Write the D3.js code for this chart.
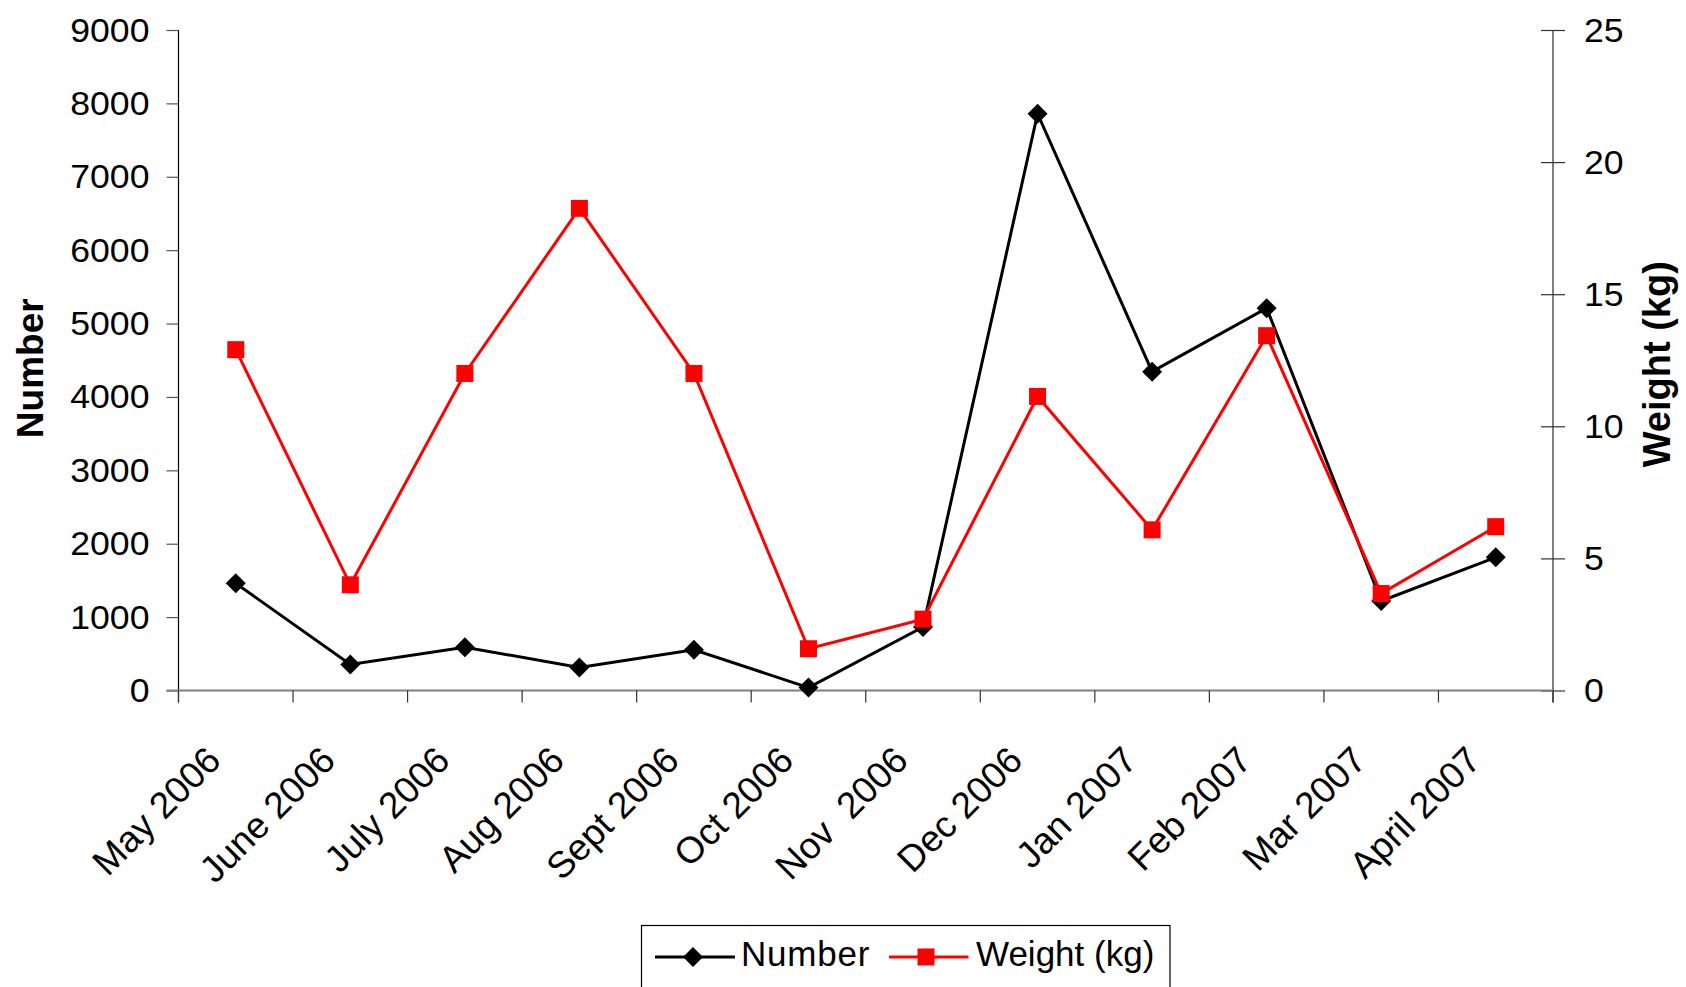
<!DOCTYPE html>
<html>
<head>
<meta charset="utf-8">
<script src="https://cdn.jsdelivr.net/npm/d3@7"></script>
<style>
  html, body { margin: 0; padding: 0; background: #ffffff; }
  svg { display: block; }
  text { font-family: "Liberation Sans", Arial, sans-serif; fill: #000; }
</style>
</head>
<body>
<svg id="chart" width="1686" height="987"></svg>
<script>
const categories = ["May 2006", "June 2006", "July 2006", "Aug 2006", "Sept 2006", "Oct 2006",
                    "Nov  2006", "Dec 2006", "Jan 2007", "Feb 2007", "Mar 2007", "April 2007"];
const numberValues = [1460, 355, 590, 315, 555, 40, 865, 7860, 4345, 5210, 1220, 1815];
const weightValues = [12.9, 4.0, 12.0, 18.25, 12.0, 1.58, 2.7, 11.13, 6.08, 13.43, 3.67, 6.2];
const numberTicks = [0, 1000, 2000, 3000, 4000, 5000, 6000, 7000, 8000, 9000];
const weightTicks = [0, 5, 10, 15, 20, 25];
const seriesNames = ["Number", "Weight (kg)"];

const W = 1686, H = 987;
const plot = { left: 178.5, right: 1553, top: 30, bottom: 690.5 };
const stretch = 1.08;

const svg = d3.select("#chart");

const x = d3.scaleBand().domain(categories).range([plot.left, plot.right]).padding(0);
const yN = d3.scaleLinear().domain([0, 9000]).range([plot.bottom, plot.top]);
const yW = d3.scaleLinear().domain([0, 25]).range([plot.bottom, plot.top]);
const cx = c => x(c) + x.bandwidth() / 2;

// Left axis
const gL = svg.append("g").attr("transform", `translate(${plot.left},0)`)
  .call(d3.axisLeft(yN).tickValues(numberTicks).tickSize(12).tickSizeOuter(0).tickFormat(d3.format("d")));
gL.select(".domain").attr("stroke", "#000").attr("stroke-width", 1.2).attr("d", `M0,${plot.top}V${plot.bottom + 12}`);
gL.selectAll(".tick line").attr("stroke", "#555").attr("stroke-width", 1.2);
gL.selectAll(".tick text")
  .attr("x", null).attr("dy", null)
  .attr("transform", `translate(-29,11) scale(${stretch},1)`)
  .style("font-size", "33px").attr("fill", "#000");

// Right axis
const gR = svg.append("g").attr("transform", `translate(${plot.right},0)`)
  .call(d3.axisRight(yW).tickValues(weightTicks).tickSize(12).tickSizeOuter(0).tickFormat(d3.format("d")));
gR.select(".domain").attr("stroke", "#808080").attr("stroke-width", 2).attr("d", `M0,${plot.top}V${plot.bottom + 12}`);
gR.selectAll(".tick line").attr("x1", -12).attr("x2", 12).attr("stroke", "#333").attr("stroke-width", 1.2);
gR.selectAll(".tick text")
  .attr("x", null).attr("dy", null)
  .attr("transform", `translate(31,11) scale(${stretch},1)`)
  .style("font-size", "33px").attr("fill", "#000").attr("text-anchor", "start");

// Bottom axis: line and boundary ticks
const gB = svg.append("g");
gB.append("line")
  .attr("x1", plot.left - 12).attr("x2", plot.right)
  .attr("y1", plot.bottom).attr("y2", plot.bottom)
  .attr("stroke", "#808080").attr("stroke-width", 2);
const boundaries = categories.map(c => x(c)).concat([x.range()[1]]);
gB.selectAll("line.btick").data(boundaries).join("line")
  .attr("class", "btick")
  .attr("x1", d => d).attr("x2", d => d)
  .attr("y1", plot.bottom).attr("y2", plot.bottom + 12)
  .attr("stroke", "#333").attr("stroke-width", 1.2);

// Category labels
gB.selectAll("text.cat").data(categories).join("text")
  .attr("class", "cat")
  .attr("transform", d => `translate(${cx(d) - 13},${plot.bottom + 72}) rotate(-45)`)
  .attr("text-anchor", "end")
  .style("font-size", "37px")
  .style("white-space", "pre")
  .text(d => d);

// Axis titles
svg.append("text")
  .attr("transform", `translate(42.5,${(plot.top + plot.bottom) / 2 + 8}) rotate(-90)`)
  .attr("text-anchor", "middle")
  .style("font-size", "37px").style("font-weight", "bold")
  .text("Number");
svg.append("text")
  .attr("transform", `translate(1670,${(plot.top + plot.bottom) / 2 + 4}) rotate(-90)`)
  .attr("text-anchor", "middle")
  .style("font-size", "38px").style("font-weight", "bold")
  .text("Weight (kg)");

// Series
const lineN = d3.line().x((d, i) => cx(categories[i])).y(d => yN(d));
const lineW = d3.line().x((d, i) => cx(categories[i])).y(d => yW(d));

svg.append("path").datum(numberValues)
  .attr("d", lineN).attr("fill", "none").attr("stroke", "#000").attr("stroke-width", 3);
const diamond = s => `M0,${-s}L${s},0L0,${s}L${-s},0Z`;
svg.selectAll("path.dm").data(numberValues).join("path")
  .attr("class", "dm")
  .attr("transform", (d, i) => `translate(${cx(categories[i])},${yN(d)})`)
  .attr("d", diamond(10)).attr("fill", "#000");

svg.append("path").datum(weightValues)
  .attr("d", lineW).attr("fill", "none").attr("stroke", "#ff0000").attr("stroke-width", 3);
svg.selectAll("rect.sq").data(weightValues).join("rect")
  .attr("class", "sq")
  .attr("x", (d, i) => cx(categories[i]) - 8.5).attr("y", d => yW(d) - 8.5)
  .attr("width", 17).attr("height", 17).attr("fill", "#ff0000");

// Legend
const lg = svg.append("g");
lg.append("rect").attr("x", 641.5).attr("y", 925.5).attr("width", 528.5).attr("height", 80)
  .attr("fill", "#fff").attr("stroke", "#000").attr("stroke-width", 1.2);
const ly = 957;
lg.append("line").attr("x1", 655).attr("x2", 735).attr("y1", ly).attr("y2", ly).attr("stroke", "#000").attr("stroke-width", 3);
lg.append("path").attr("transform", `translate(693,${ly})`).attr("d", diamond(10)).attr("fill", "#000");
lg.append("text").attr("x", 741).attr("y", 966).style("font-size", "35px").style("letter-spacing", "0.8px").text(seriesNames[0]);
lg.append("line").attr("x1", 889).attr("x2", 968.5).attr("y1", ly).attr("y2", ly).attr("stroke", "#ff0000").attr("stroke-width", 3);
lg.append("rect").attr("x", 926 - 8.5).attr("y", ly - 8.5).attr("width", 17).attr("height", 17).attr("fill", "#ff0000");
lg.append("text").attr("x", 976).attr("y", 966).style("font-size", "35px").text(seriesNames[1]);
</script>
</body>
</html>
